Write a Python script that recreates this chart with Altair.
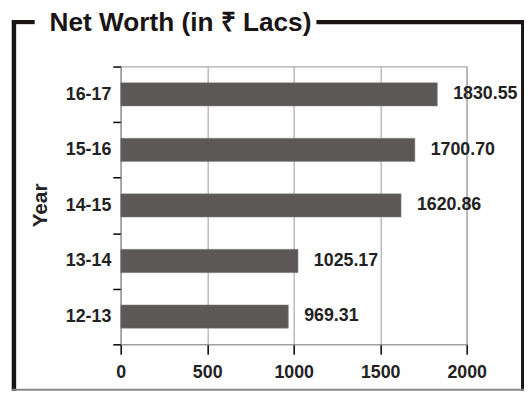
import altair as alt
import pandas as pd

years = ["12-13", "13-14", "14-15", "15-16", "16-17"]
net_worth = [969.31, 1025.17, 1620.86, 1700.70, 1830.55]
x_ticks = [0, 500, 1000, 1500, 2000]
chart_title = "Net Worth (in ₹ Lacs)"
axis_title = "Year"

df = pd.DataFrame({"Year": years, "NetWorth": net_worth})
one = pd.DataFrame({"k": [0]})

W, H = 350, 281
FONT = "Liberation Sans, Arial, sans-serif"

y_enc = alt.Y(
    "Year:N",
    sort=years[::-1],
    scale=alt.Scale(paddingInner=0, paddingOuter=0),
    axis=alt.Axis(
        title=axis_title,
        tickBand="extent",
        grid=False,
        tickColor="#000",
        tickSize=8,
        tickWidth=1.5,
        domainColor="#999",
        labelFont=FONT,
        labelFontWeight="bold",
        labelFontSize=18,
        labelColor="#222",
        labelPadding=2,
        titleFont=FONT,
        titleFontWeight="bold",
        titleFontSize=21,
        titleColor="#222",
        titleAngle=270,
        titleX=-81,
        titleY=140,
        titleAlign="center",
        titleBaseline="middle",
    ),
)
x_enc = alt.X(
    "NetWorth:Q",
    scale=alt.Scale(domain=[0, 2000], nice=False),
    axis=alt.Axis(
        values=x_ticks,
        format="d",
        title=None,
        grid=True,
        gridColor="#aaa",
        gridWidth=1.2,
        tickColor="#000",
        tickSize=10,
        tickWidth=1.5,
        domainColor="#999",
        labelFont=FONT,
        labelFontWeight="bold",
        labelFontSize=18,
        labelColor="#222",
        labelPadding=10,
        labelFlush=False,
    ),
)

bars = alt.Chart(df).mark_bar(
    color="#5d5858", stroke="#888", strokeWidth=0.5, height={"band": 0.42}
).encode(y=y_enc, x=x_enc)
labels = alt.Chart(df).mark_text(
    align="left", baseline="middle", dx=16, font=FONT, fontWeight="bold",
    fontSize=18, color="#222"
).encode(y=alt.Y("Year:N", sort=years[::-1]), x="NetWorth:Q",
         text=alt.Text("NetWorth:Q", format=".2f"))


def rule(x, x2, y, y2, width, color="#1a1414"):
    return alt.Chart(one).mark_rule(strokeWidth=width, color=color).encode(
        x=alt.value(x), x2=alt.value(x2), y=alt.value(y), y2=alt.value(y2)
    )


frame = (
    rule(-108, -108, -47, 328, 4.5)
    + rule(-110, -87, -45, -45, 4.2)
    + rule(198, 408, -45, -45, 4.2)
    + rule(406.5, 406.5, -47, 328, 3)
    + rule(-110, 408, 327, 327, 2, "#888")
)

title = alt.Chart(one).mark_text(
    align="left", baseline="alphabetic", font=FONT, fontWeight="bold",
    fontSize=26.5, color="#1a1414"
).encode(x=alt.value(-72), y=alt.value(-36), text=alt.value(chart_title))

chart = alt.layer(bars, labels, frame, title).properties(
    width=W,
    height=H,
    autosize=alt.AutoSizeParams(type="none"),
    padding={"left": 114, "top": 57, "right": 58, "bottom": 48},
).configure_view(stroke="#aaa", strokeWidth=1.2)

chart.save("out.html", embed_options={"renderer": "svg", "actions": False})
